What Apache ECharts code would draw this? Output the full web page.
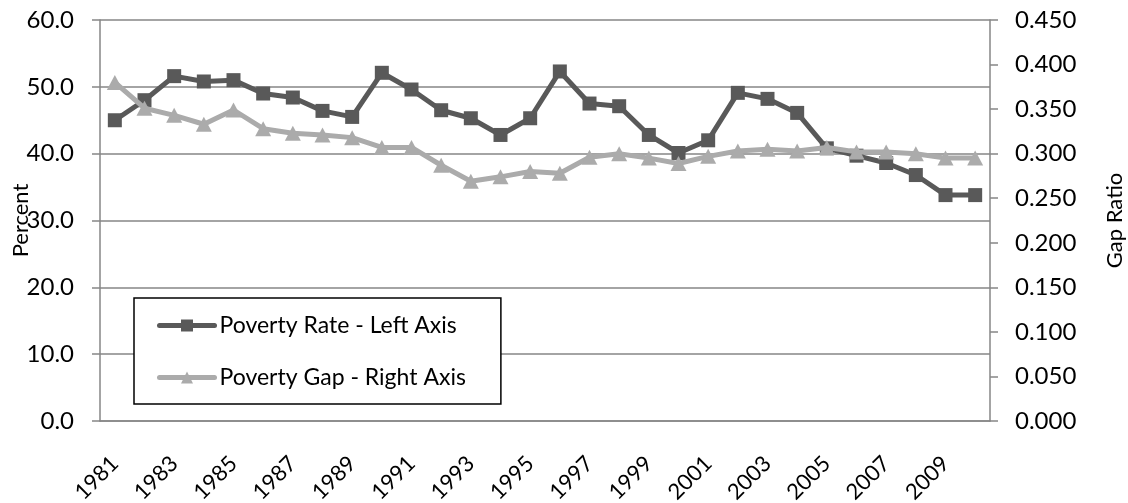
<!DOCTYPE html>
<html>
<head>
<meta charset="utf-8">
<script src="https://cdn.jsdelivr.net/npm/echarts@6/dist/echarts.min.js"></script>
<style>
  html, body { margin: 0; padding: 0; background: #fff; }
  #chart { width: 1128px; height: 503px; }
</style>
</head>
<body>
<div id="chart"></div>
<script>
// Years on the category axis
const years = ['1981','1982','1983','1984','1985','1986','1987','1988','1989','1990',
  '1991','1992','1993','1994','1995','1996','1997','1998','1999','2000',
  '2001','2002','2003','2004','2005','2006','2007','2008','2009','2010'];

// Poverty rate, percent (left axis)
const povertyRate = [45.0, 48.0, 51.6, 50.8, 51.0, 49.0, 48.4, 46.4, 45.5, 52.1,
  49.6, 46.5, 45.3, 42.8, 45.3, 52.3, 47.5, 47.1, 42.8, 40.1,
  42.0, 49.1, 48.2, 46.1, 40.8, 39.7, 38.6, 36.8, 33.8, 33.8];

// Poverty gap ratio (right axis)
const povertyGap = [0.380, 0.351, 0.343, 0.333, 0.349, 0.328, 0.323, 0.321, 0.318, 0.307,
  0.307, 0.287, 0.269, 0.274, 0.280, 0.278, 0.296, 0.300, 0.295, 0.289,
  0.297, 0.303, 0.305, 0.303, 0.307, 0.302, 0.302, 0.300, 0.295, 0.295];

const FONT = 'Lato';
const AXIS_GREY = '#868686';
const DARK = '#595959';
const LIGHT = '#ababab';

const chart = echarts.init(document.getElementById('chart'), null, { renderer: 'canvas' });

chart.setOption({
  animation: false,
  backgroundColor: '#fff',
  grid: {
    left: 100, right: 138, top: 20, bottom: 82,
    containLabel: false,
    outerBoundsMode: 'none'
  },
  legend: {
    orient: 'vertical',
    left: 134,
    top: 298,
    padding: [16, 35, 15, 23],
    itemGap: 29,
    itemWidth: 55,
    itemHeight: 15,
    borderColor: '#000',
    borderWidth: 1.5,
    borderRadius: 0,
    backgroundColor: '#fff',
    textStyle: { fontFamily: FONT, fontSize: 23, color: '#000' },
    data: [
      { name: 'Poverty Rate - Left Axis', itemStyle: { color: DARK },
        lineStyle: { color: DARK, width: 5, cap: 'round' } },
      { name: 'Poverty Gap - Right Axis', itemStyle: { color: LIGHT },
        lineStyle: { color: LIGHT, width: 5, cap: 'round' } }
    ]
  },
  xAxis: {
    type: 'category',
    data: years,
    boundaryGap: true,
    axisLine: { lineStyle: { color: AXIS_GREY, width: 1.5 } },
    axisTick: { interval: 1, length: 8, lineStyle: { color: AXIS_GREY, width: 1.5 } },
    axisLabel: {
      interval: 1,
      rotate: 45,
      margin: 39,
      fontFamily: FONT,
      fontSize: 22,
      color: '#000'
    },
    splitLine: { show: false }
  },
  yAxis: [
    {
      type: 'value',
      position: 'left',
      min: 0,
      max: 60,
      interval: 10,
      name: 'Percent',
      nameLocation: 'middle',
      nameRotate: 90,
      nameGap: 68,
      nameMoveOverlap: false,
      nameTextStyle: { fontFamily: FONT, fontSize: 22, color: '#000' },
      axisLine: { show: true, lineStyle: { color: AXIS_GREY, width: 1.5 } },
      axisTick: { show: true, length: 8, lineStyle: { color: AXIS_GREY, width: 1.5 } },
      axisLabel: {
        margin: 26,
        fontFamily: FONT,
        fontSize: 24,
        color: '#000',
        formatter: v => v.toFixed(1)
      },
      splitLine: { show: true, lineStyle: { color: AXIS_GREY, width: 1.5 } }
    },
    {
      type: 'value',
      position: 'right',
      min: 0,
      max: 0.45,
      interval: 0.05,
      name: 'Gap Ratio',
      nameLocation: 'middle',
      nameRotate: 90,
      nameGap: 114,
      nameMoveOverlap: false,
      nameTextStyle: { fontFamily: FONT, fontSize: 22, color: '#000' },
      axisLine: { show: true, lineStyle: { color: AXIS_GREY, width: 1.5 } },
      axisTick: { show: true, length: 8, lineStyle: { color: AXIS_GREY, width: 1.5 } },
      axisLabel: {
        margin: 25,
        fontFamily: FONT,
        fontSize: 24,
        color: '#000',
        formatter: v => v.toFixed(3)
      },
      splitLine: { show: false }
    }
  ],
  series: [
    {
      name: 'Poverty Rate - Left Axis',
      type: 'line',
      yAxisIndex: 0,
      data: povertyRate,
      symbol: 'rect',
      symbolSize: 14,
      showAllSymbol: true,
      itemStyle: { color: DARK },
      lineStyle: { color: DARK, width: 5, cap: 'round', join: 'round' },
      z: 2
    },
    {
      name: 'Poverty Gap - Right Axis',
      type: 'line',
      yAxisIndex: 1,
      data: povertyGap,
      symbol: 'triangle',
      symbolSize: [16, 15],
      showAllSymbol: true,
      itemStyle: { color: LIGHT },
      lineStyle: { color: LIGHT, width: 5, cap: 'round', join: 'round' },
      z: 3
    }
  ]
});
</script>
</body>
</html>
